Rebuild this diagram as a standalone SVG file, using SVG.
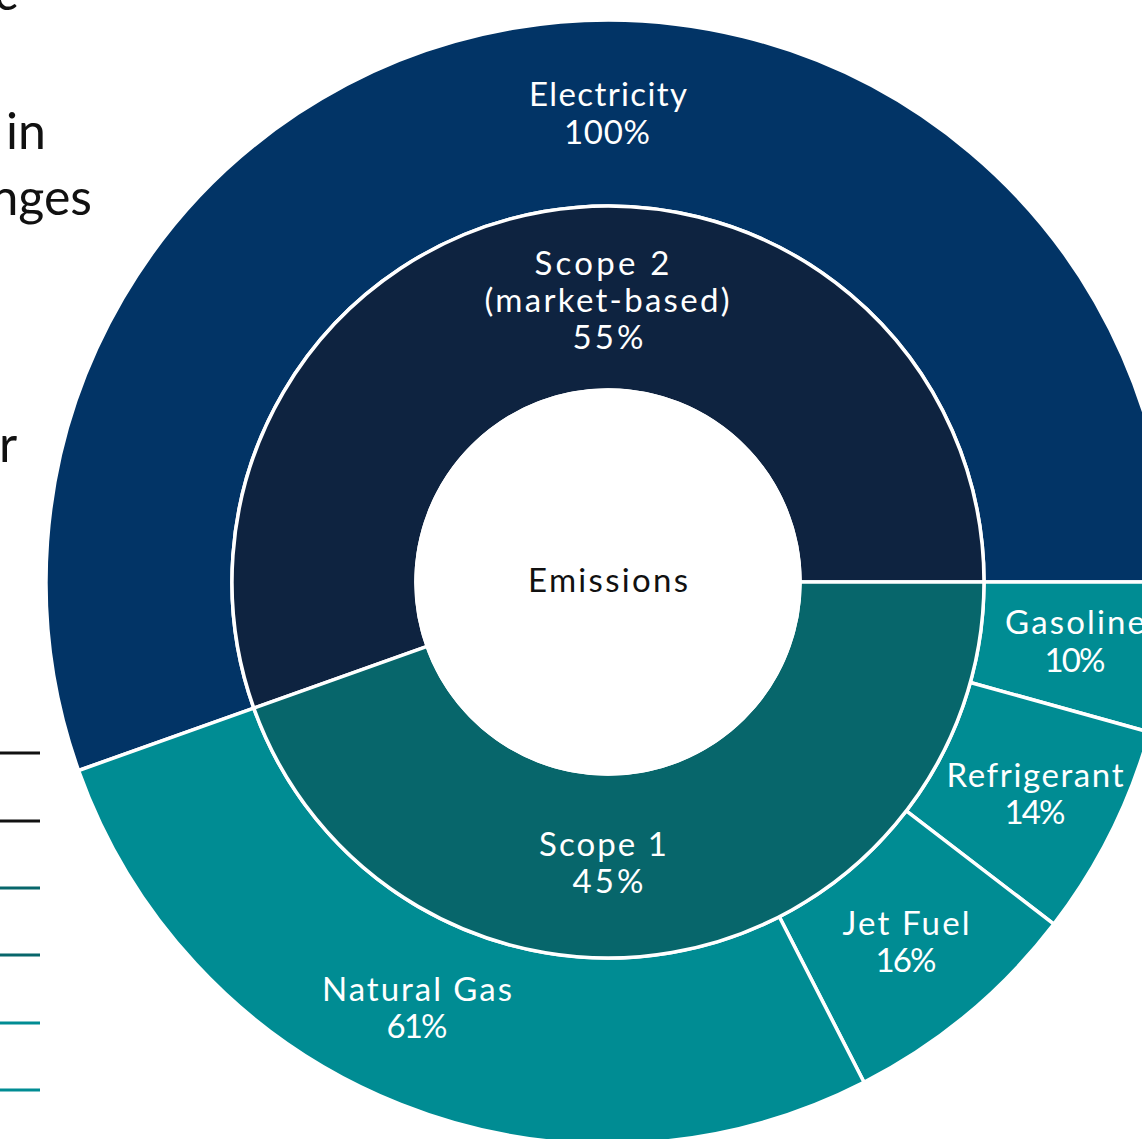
<svg xmlns="http://www.w3.org/2000/svg" width="1142" height="1139" viewBox="0 0 1142 1139">
<style>
.w{stroke:#fff;stroke-width:3.5;stroke-linejoin:miter}
.lbl{font-family:Lato,"Open Sans","Liberation Sans",sans-serif;font-size:33px;fill:#fff;text-anchor:middle}
.dk{fill:#111}
.side{font-family:Lato,"Open Sans","Liberation Sans",sans-serif;font-size:50px;fill:#111}
.elec{fill:#023466}
.s2{fill:#0E2340}
.s1{fill:#07666B}
.teal{fill:#008C93}
</style>
<rect width="1142" height="1139" fill="#fff"/>
<g id="side-text">
<text class="side" x="-6" y="10">c</text>
<text class="side" x="6" y="149">in</text>
<text class="side" x="92" y="215" text-anchor="end">nges</text>
<text class="side" x="-1" y="462">r</text>
</g>
<g id="legend-lines" stroke-width="3">
<line x1="0" y1="753" x2="40" y2="753" stroke="#111"/>
<line x1="0" y1="821" x2="40" y2="821" stroke="#111"/>
<line x1="0" y1="888" x2="40" y2="888" stroke="#07666B"/>
<line x1="0" y1="955" x2="40" y2="955" stroke="#07666B"/>
<line x1="0" y1="1023" x2="40" y2="1023" stroke="#008C93"/>
<line x1="0" y1="1090" x2="40" y2="1090" stroke="#008C93"/>
</g>
<g id="electricity">
<path class="elec w" d="M253.79 708.13 A376 376 0 1 1 984 582 L1170 582 A562 562 0 1 0 78.56 770.52 Z"/>
<text class="lbl" x="608" y="106" textLength="158">Electricity</text>
<text class="lbl" x="607" y="144" textLength="86">100%</text>
</g>
<g id="gasoline">
<path class="teal w" d="M984 582 A376 376 0 0 1 970.33 682.48 L1149.56 732.19 A562 562 0 0 0 1170 582 Z"/>
<text class="lbl" x="1075" y="634" textLength="140">Gasoline</text>
<text class="lbl" x="1075" y="672" textLength="61">10%</text>
</g>
<g id="refrigerant">
<path class="teal w" d="M970.33 682.48 A376 376 0 0 1 906.30 810.89 L1053.86 924.12 A562 562 0 0 0 1149.56 732.19 Z"/>
<text class="lbl" x="1035" y="787" textLength="177">Refrigerant</text>
<text class="lbl" x="1035" y="824" textLength="61">14%</text>
</g>
<g id="jet-fuel">
<path class="teal w" d="M906.30 810.89 A376 376 0 0 1 779.28 916.72 L864.01 1082.30 A562 562 0 0 0 1053.86 924.12 Z"/>
<text class="lbl" x="906" y="935" textLength="127">Jet Fuel</text>
<text class="lbl" x="906" y="972" textLength="61">16%</text>
</g>
<g id="natural-gas">
<path class="teal w" d="M779.28 916.72 A376 376 0 0 1 253.79 708.13 L78.56 770.52 A562 562 0 0 0 864.01 1082.30 Z"/>
<text class="lbl" x="417" y="1001" textLength="190">Natural Gas</text>
<text class="lbl" x="417" y="1038" textLength="61">61%</text>
</g>
<g id="scope-2">
<path class="s2 w" d="M427.12 646.41 A192 192 0 1 1 800 582 L984 582 A376 376 0 1 0 253.79 708.13 Z"/>
<text class="lbl" x="602" y="275" textLength="135">Scope 2</text>
<text class="lbl" x="607" y="312" textLength="245">(market-based)</text>
<text class="lbl" x="608" y="349" textLength="71">55%</text>
</g>
<g id="scope-1">
<path class="s1 w" d="M800 582 A192 192 0 0 1 427.12 646.41 L253.79 708.13 A376 376 0 0 0 984 582 Z"/>
<text class="lbl" x="603" y="856" textLength="128">Scope 1</text>
<text class="lbl" x="608" y="893" textLength="71">45%</text>
</g>
<g id="emissions">
<circle cx="608" cy="582" r="192" fill="#fff" stroke="#fff" stroke-width="3.5"/>
<text class="lbl dk" x="608" y="592" textLength="160">Emissions</text>
</g>
</svg>
